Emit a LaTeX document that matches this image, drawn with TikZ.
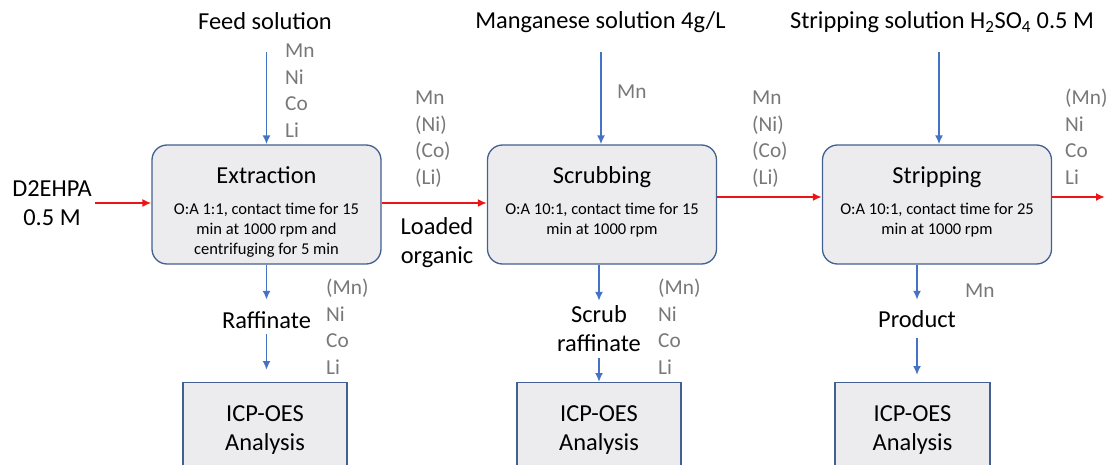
\documentclass[tikz,border=0pt]{standalone}
\usepackage{fontspec}
\setmainfont{Carlito}
\usepackage{tikz}
\usetikzlibrary{arrows.meta,positioning}
\definecolor{boxline}{RGB}{66,96,146}
\definecolor{boxfill}{RGB}{236,236,238}
\definecolor{flowblue}{RGB}{68,114,196}
\definecolor{flowred}{RGB}{236,20,20}
\definecolor{iongray}{RGB}{120,120,120}
\newcommand{\bigtxt}{\fontsize{24.4}{29}\selectfont}
\newcommand{\notetxt}{\fontsize{16.5}{20}\selectfont}
\newcommand{\iontxt}{\fontsize{21.3}{26.5}\selectfont}
\tikzstyle{stage}=[rectangle, rounded corners=15pt, draw=boxline, fill=boxfill, line width=1.3pt, minimum width=229pt, minimum height=119pt]
\tikzstyle{icp}=[rectangle, draw=boxline, fill=boxfill, line width=1.3pt, minimum height=95pt, anchor=north, align=center, font=\bigtxt]
\tikzstyle{txt}=[inner sep=0pt, anchor=base, font=\bigtxt, align=center]
\tikzstyle{one}=[txt, text height=17pt, text depth=5pt]
\tikzstyle{note}=[inner sep=0pt, anchor=base, font=\notetxt, align=center]
\tikzstyle{ion}=[inner sep=0pt, anchor=base west, font=\iontxt, text=iongray]
\tikzstyle{aq}=[->, draw=flowblue, line width=1.8pt]
\tikzstyle{org}=[->, draw=flowred, line width=2pt]
\begin{document}
\begin{tikzpicture}[>={Latex[length=9pt,width=8pt]}, x=1pt, y=-1pt]
    \useasboundingbox (0,0) rectangle (1112,465);
    \clip (0,0) rectangle (1112,465);

    \node (P1) [stage] at (266.5,204.5) {};
    \node (P2) [stage] at (602,204.5) {};
    \node (P3) [stage] at (937,204.5) {};
    \node (T1) [one] at ([yshift=-39pt]P1.north) {Extraction};
    \node (T2) [one] at ([yshift=-39pt]P2.north) {Scrubbing};
    \node (T3) [one] at ([yshift=-39pt]P3.north) {Stripping};
    \node (D1) [note] at ([yshift=-110pt]P1.north) {O:A 1:1, contact time for 15\\min at 1000 rpm and\\centrifuging for 5 min};
    \node (D2) [note] at ([yshift=-90pt]P2.north) {O:A 10:1, contact time for 15\\min at 1000 rpm};
    \node (D3) [note] at ([yshift=-90pt]P3.north) {O:A 10:1, contact time for 25\\min at 1000 rpm};

    \node (Feed) [one] at (265,30) {Feed solution};
    \node (Mang) [one] at (600.5,29) {Manganese solution 4g/L};
    \node (Strip) [one] at (942,29) {Stripping solution H\textsubscript{2}SO\textsubscript{4} 0.5 M};
    \node (D2EHPA) [txt] at (52,226) {D2EHPA\\0.5 M};
    \node (Load) [txt] at (437,264) {Loaded\\organic};
    \node (Raf) [one] at (266.5,328) {Raffinate};
    \node (Scr) [txt] at (599,352) {Scrub\\raffinate};
    \node (Prod) [one] at (917,327) {Product};

    \node (A1) [icp, minimum width=164pt] at (265,382) {ICP-OES\\Analysis};
    \node (A2) [icp, minimum width=164pt] at (599,382) {ICP-OES\\Analysis};
    \node (A3) [icp, minimum width=155pt] at (912.5,382) {ICP-OES\\Analysis};

    \foreach \e [count=\k from 0] in {Mn,Ni,Co,Li}
      \node (fd\k) [ion] at (285,58+26.5*\k) {\e};
    \foreach \e [count=\k from 0] in {Mn,(Ni),(Co),(Li)}
      \node (lo\k) [ion] at (415,105+26.5*\k) {\e};
    \foreach \e [count=\k from 0] in {Mn,(Ni),(Co),(Li)}
      \node (ls\k) [ion] at (752,105+26.5*\k) {\e};
    \foreach \e [count=\k from 0] in {(Mn),Ni,Co,Li}
      \node (st\k) [ion] at (1065,105+26.5*\k) {\e};
    \foreach \e [count=\k from 0] in {(Mn),Ni,Co,Li}
      \node (rf\k) [ion] at (326,295+26.5*\k) {\e};
    \foreach \e [count=\k from 0] in {(Mn),Ni,Co,Li}
      \node (sr\k) [ion] at (658,295+26.5*\k) {\e};
    \node (scMn) [ion] at (617,99) {Mn};
    \node (prMn) [ion] at (965,298) {Mn};

    \coordinate (in1) at (266.5,52);
    \coordinate (in2) at (601,52);
    \coordinate (in3) at (939,52);
    \coordinate (orgin) at (95,203);
    \coordinate (orgout) at (1105,197);

    \draw[aq] (in1) -- (in1 |- P1.north);
    \draw[aq] (in2) -- (in2 |- P2.north);
    \draw[aq] (in3) -- (in3 |- P3.north);
    \draw[org] (orgin) -- (orgin -| P1.west);
    \draw[org] (P1.east |- orgin) -- (P2.west |- orgin);
    \draw[org] ([yshift=7.5pt]P2.east) -- ([yshift=7.5pt]P3.west);
    \draw[org] ([yshift=7.5pt]P3.east) -- (orgout);

    \draw[aq, shorten >=11pt] (P1.south) -- (Raf.north);
    \draw[aq, shorten <=1pt, shorten >=12pt] (Raf.south) -- (Raf.south |- A1.north);
    \draw[aq, shorten >=5pt] (P2.south -| Scr.north) -- (Scr.north);
    \draw[aq, shorten <=6pt] (Scr.south) -- (Scr.south |- A2.north);
    \draw[aq, shorten >=10pt] (P3.south -| Prod.north) -- (Prod.north);
    \draw[aq, shorten <=6pt, shorten >=7pt] (Prod.south) -- (Prod.south |- A3.north);
\end{tikzpicture}
\end{document}
